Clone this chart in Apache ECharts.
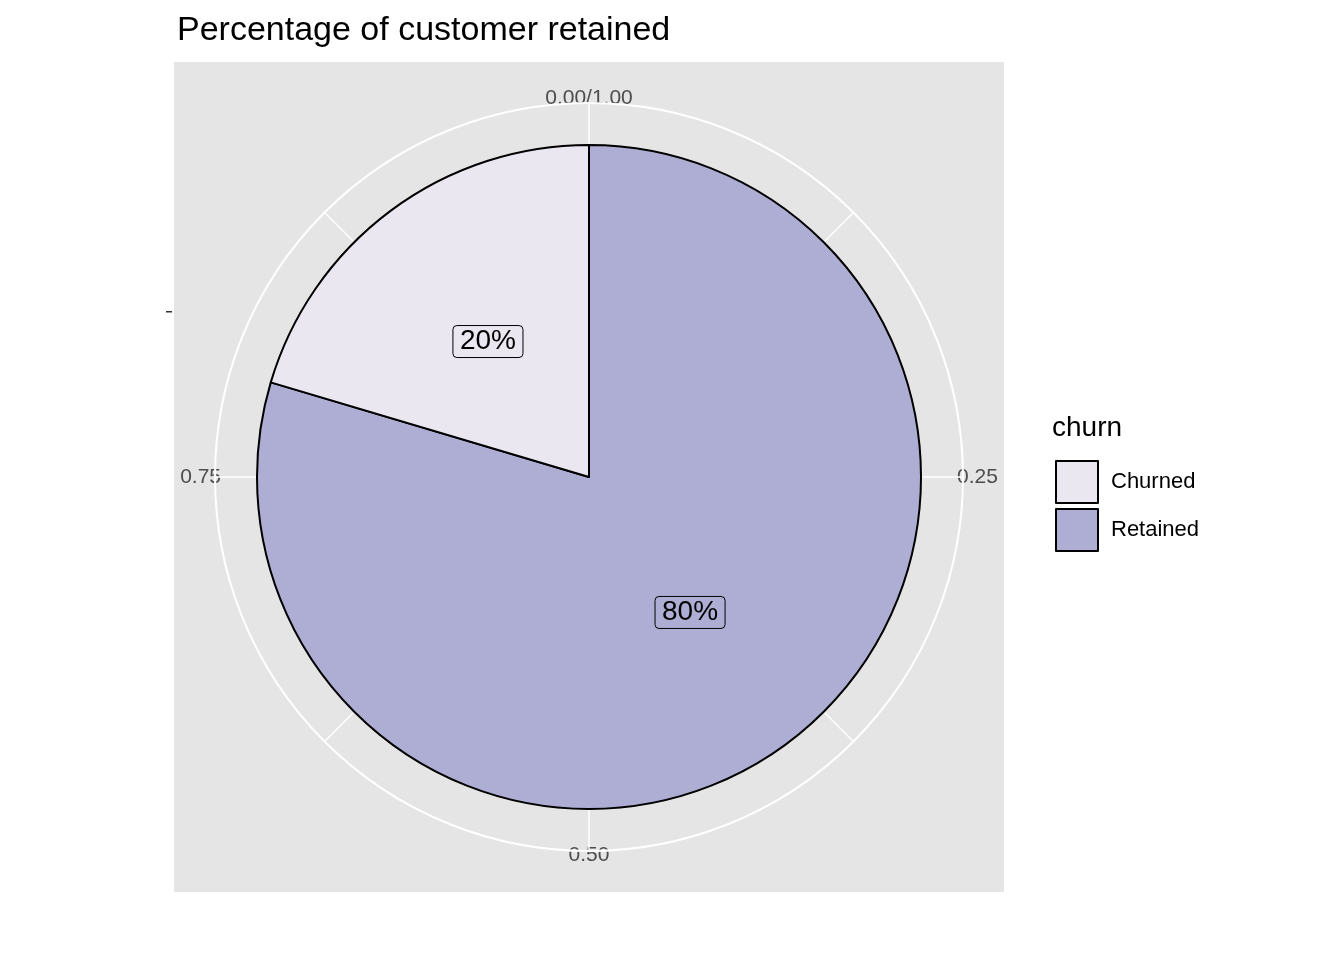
<!DOCTYPE html>
<html>
<head>
<meta charset="utf-8">
<script src="https://cdn.jsdelivr.net/npm/echarts@6/dist/echarts.min.js"></script>
<style>html,body{margin:0;padding:0;background:#fff}#chart{width:1344px;height:960px}</style>
</head>
<body>
<div id="chart"></div>
<script>
const categories = ["Retained", "Churned"];
const shares = [0.796, 0.204];
const sliceColors = ["#AEAED4", "#EAE7F1"];
const legendOrder = ["Churned", "Retained"];

const chart = echarts.init(document.getElementById("chart"));
const cx = 589, cy = 477;
const option = {
    animation: false,
    textStyle: { fontFamily: "Liberation Sans, Arial, sans-serif" },
    title: [
        { text: "Percentage of customer retained", left: 172, top: 9, textStyle: { fontSize: 34, fontWeight: "normal", color: "#000" } },
        { text: "churn", left: 1047, top: 409, textStyle: { fontSize: 28, fontWeight: "normal", color: "#000" } }
    ],
    graphic: [
        { type: "rect", z: -10, shape: { x: 174, y: 62, width: 830, height: 830 }, style: { fill: "#E5E5E5" } },
        { type: "rect", shape: { x: 166, y: 311, width: 6, height: 1.5 }, style: { fill: "#333" } }
    ],
    legend: {
        data: legendOrder, orient: "vertical", left: 1050, top: 455,
        icon: "rect", itemWidth: 42, itemHeight: 42, itemGap: 4,
        textStyle: { fontSize: 22, color: "#000", padding: [0, 0, 0, 8] },
        itemStyle: { borderColor: "#000", borderWidth: 2 }
    },
    polar: { center: [cx, cy], radius: 374 },
    angleAxis: {
        type: "value", min: 0, max: 1, interval: 0.125, startAngle: 90, clockwise: true,
        axisLine: { lineStyle: { color: "#fff", width: 2 } },
        axisTick: { show: false },
        splitLine: { show: true, lineStyle: { color: "#fff", width: 1.5 } },
        axisLabel: {
            fontSize: 21, color: "#4D4D4D", margin: -6,
            formatter: v => {
                if (Math.round(v * 8) % 2 === 1) return "";
                if (v === 0) return "0.00/1.00";
                if (v === 1) return "";
                return v.toFixed(2);
            }
        }
    },
    radiusAxis: { show: false, min: 0, max: 1, splitLine: { show: false }, axisLine: { show: false } },
    series: [{
        type: "pie", center: [cx, cy], radius: [0, 332], startAngle: 90, clockwise: true,
        avoidLabelOverlap: false, z: 5,
        data: categories.map((c, i) => ({ name: c, value: shares[i], itemStyle: { color: sliceColors[i] } })),
        itemStyle: { borderColor: "#000", borderWidth: 2 },
        label: {
            position: "inner", fontSize: 28, color: "#000",
            formatter: p => Math.round(p.value * 100) + "%",
            borderColor: "#000", borderWidth: 1,
            borderRadius: 4, padding: [3, 7, 1, 7]
        },
        emphasis: { disabled: true }
    }]
};
chart.setOption(option);
window.addEventListener("resize", () => chart.resize());
</script>
</body>
</html>
